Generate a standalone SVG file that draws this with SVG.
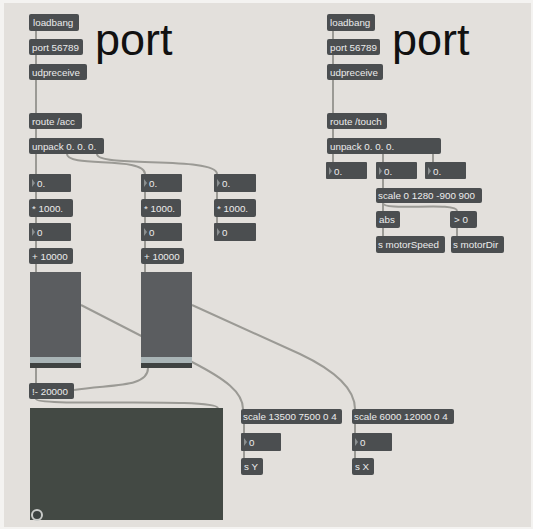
<svg xmlns="http://www.w3.org/2000/svg" width="533" height="529" viewBox="0 0 533 529">
<style>
.bx{fill:#4b4e50}
.t{font-family:"Liberation Sans",Arial,sans-serif;font-size:9.8px;fill:#ececec}
.tri{fill:#8b8f90}
.c{fill:none;stroke:#9b9a95;stroke-width:2}
.big{font-family:"Liberation Sans",Arial,sans-serif;font-size:45px;fill:#111}
.sb{fill:#5b5d60}
.ss{fill:#a9b4b6}
.sd{fill:#3f4241}
</style>
<rect width="533" height="529" fill="#f4f3f1"/>
<rect x="4" y="3" width="527" height="524" fill="#e3e0dc"/>

<g id="connectors">
<path class="c" d="M36,31V39M36,55V64M36,80V113M36,129V138M36,154V174M36,192V199M36,217V223M36,241V248M36,264V272M36,368V383"/>
<path class="c" d="M67,154C67,168 145,156 145,174"/>
<path class="c" d="M97,154C97,168 217,156 217,174"/>
<path class="c" d="M145,192V199M145,217V223M145,241V248M145,264V272"/>
<path class="c" d="M217,192V199M217,217V223"/>
<path class="c" d="M81,305L192,362C225,379 243,392 243,409"/>
<path class="c" d="M192,305L300,354C338,372 355,390 355,409"/>
<path class="c" d="M148,368C148,388 110,384 74,390"/>
<path class="c" d="M36,399C36,407 215,397 218,408"/>
<path class="c" d="M244,424V433M244,451V458M355,424V433M355,451V458"/>
<path class="c" d="M333,31V39M333,55V64M333,80V113M333,129V138M333,154V162"/>
<path class="c" d="M383,154V162M433,154V162M383,179V188M383,203V211M383,228V236M457,228V236"/>
<path class="c" d="M383,203C383,212 457,201 457,211"/>
</g>

<g id="port-label-left"><text class="big" x="95" y="55">port</text></g>
<g id="port-label-right"><text class="big" x="392" y="55">port</text></g>

<g id="loadbang-l"><rect class="bx" x="29" y="14" width="50" height="17" rx="2"/><text class="t" x="33" y="26">loadbang</text></g>
<g id="port-l"><rect class="bx" x="29" y="39" width="54" height="16" rx="2"/><text class="t" x="32" y="50.5">port 56789</text></g>
<g id="udpreceive-l"><rect class="bx" x="29" y="64" width="58" height="16" rx="2"/><text class="t" x="32" y="75.5">udpreceive</text></g>
<g id="route-acc"><rect class="bx" x="29" y="113" width="53" height="16" rx="2"/><text class="t" x="32" y="124.5">route /acc</text></g>
<g id="unpack-l"><rect class="bx" x="29" y="138" width="75" height="16" rx="2"/><text class="t" x="32" y="149.5">unpack 0. 0. 0.</text></g>

<g id="flo-1"><rect class="bx" x="29" y="174" width="42" height="18" rx="1"/><path class="tri" d="M32,179L35,183L32,187Z"/><text class="t" x="37" y="186.5">0.</text></g>
<g id="mul-1"><rect class="bx" x="29" y="199" width="44" height="18" rx="2"/><text class="t" x="32" y="211.5">* 1000.</text></g>
<g id="int-1"><rect class="bx" x="29" y="223" width="42" height="18" rx="1"/><path class="tri" d="M32,228L35,232L32,236Z"/><text class="t" x="37" y="235.5">0</text></g>
<g id="add-1"><rect class="bx" x="29" y="248" width="44" height="16" rx="2"/><text class="t" x="32" y="259.5">+ 10000</text></g>
<g id="slider-1"><rect class="sb" x="30" y="272" width="51" height="85"/><rect class="ss" x="30" y="357" width="51" height="6"/><rect class="sd" x="30" y="363" width="51" height="5"/></g>

<g id="flo-2"><rect class="bx" x="141" y="174" width="41" height="18" rx="1"/><path class="tri" d="M144,179L147,183L144,187Z"/><text class="t" x="149" y="186.5">0.</text></g>
<g id="mul-2"><rect class="bx" x="141" y="199" width="40" height="18" rx="2"/><text class="t" x="144" y="211.5">* 1000.</text></g>
<g id="int-2"><rect class="bx" x="141" y="223" width="41" height="18" rx="1"/><path class="tri" d="M144,228L147,232L144,236Z"/><text class="t" x="149" y="235.5">0</text></g>
<g id="add-2"><rect class="bx" x="141" y="248" width="43" height="16" rx="2"/><text class="t" x="144" y="259.5">+ 10000</text></g>
<g id="slider-2"><rect class="sb" x="141" y="272" width="51" height="85"/><rect class="ss" x="141" y="357" width="51" height="6"/><rect class="sd" x="141" y="363" width="51" height="5"/></g>

<g id="flo-3"><rect class="bx" x="214" y="174" width="42" height="18" rx="1"/><path class="tri" d="M217,179L220,183L217,187Z"/><text class="t" x="222" y="186.5">0.</text></g>
<g id="mul-3"><rect class="bx" x="214" y="199" width="42" height="18" rx="2"/><text class="t" x="217" y="211.5">* 1000.</text></g>
<g id="int-3"><rect class="bx" x="214" y="223" width="42" height="18" rx="1"/><path class="tri" d="M217,228L220,232L217,236Z"/><text class="t" x="222" y="235.5">0</text></g>

<g id="sub-20000"><rect class="bx" x="29" y="383" width="45" height="16" rx="2"/><text class="t" x="32" y="394.5">!- 20000</text></g>
<g id="pictslider"><rect x="30" y="408" width="193" height="112" fill="#434944"/><circle cx="37" cy="515" r="5" fill="#3c4240" stroke="#c9cbc9" stroke-width="2"/></g>

<g id="scale-y"><rect class="bx" x="241" y="409" width="101" height="15" rx="2"/><text class="t" x="243" y="420">scale 13500 7500 0 4</text></g>
<g id="num-y"><rect class="bx" x="241" y="433" width="40" height="18" rx="1"/><path class="tri" d="M244,438L247,442L244,446Z"/><text class="t" x="249" y="445.5">0</text></g>
<g id="s-y"><rect class="bx" x="241" y="458" width="22" height="17" rx="2"/><text class="t" x="244" y="470">s Y</text></g>

<g id="scale-x"><rect class="bx" x="352" y="409" width="102" height="15" rx="2"/><text class="t" x="354" y="420">scale 6000 12000 0 4</text></g>
<g id="num-x"><rect class="bx" x="352" y="433" width="40" height="18" rx="1"/><path class="tri" d="M355,438L358,442L355,446Z"/><text class="t" x="360" y="445.5">0</text></g>
<g id="s-x"><rect class="bx" x="352" y="458" width="22" height="17" rx="2"/><text class="t" x="355" y="470">s X</text></g>

<g id="loadbang-r"><rect class="bx" x="327" y="14" width="48" height="17" rx="2"/><text class="t" x="330" y="26">loadbang</text></g>
<g id="port-r"><rect class="bx" x="327" y="39" width="53" height="16" rx="2"/><text class="t" x="330" y="50.5">port 56789</text></g>
<g id="udpreceive-r"><rect class="bx" x="327" y="64" width="56" height="16" rx="2"/><text class="t" x="330" y="75.5">udpreceive</text></g>
<g id="route-touch"><rect class="bx" x="327" y="113" width="60" height="16" rx="2"/><text class="t" x="330" y="124.5">route /touch</text></g>
<g id="unpack-r"><rect class="bx" x="327" y="138" width="114" height="16" rx="2"/><text class="t" x="330" y="149.5">unpack 0. 0. 0.</text></g>
<g id="flo-r1"><rect class="bx" x="326" y="162" width="41" height="17" rx="1"/><path class="tri" d="M329,167L332,171L329,175Z"/><text class="t" x="334" y="174.5">0.</text></g>
<g id="flo-r2"><rect class="bx" x="376" y="162" width="41" height="17" rx="1"/><path class="tri" d="M379,167L382,171L379,175Z"/><text class="t" x="384" y="174.5">0.</text></g>
<g id="flo-r3"><rect class="bx" x="425" y="162" width="41" height="17" rx="1"/><path class="tri" d="M428,167L431,171L428,175Z"/><text class="t" x="433" y="174.5">0.</text></g>
<g id="scale-touch"><rect class="bx" x="376" y="188" width="106" height="15" rx="2"/><text class="t" x="378" y="199">scale 0 1280 -900 900</text></g>
<g id="abs"><rect class="bx" x="376" y="211" width="24" height="17" rx="2"/><text class="t" x="379" y="223">abs</text></g>
<g id="gt0"><rect class="bx" x="450" y="211" width="27" height="17" rx="2"/><text class="t" x="454" y="223">&gt; 0</text></g>
<g id="s-motorspeed"><rect class="bx" x="376" y="236" width="69" height="17" rx="2"/><text class="t" x="378" y="248">s motorSpeed</text></g>
<g id="s-motordir"><rect class="bx" x="451" y="236" width="53" height="17" rx="2"/><text class="t" x="453" y="248">s motorDir</text></g>
</svg>
